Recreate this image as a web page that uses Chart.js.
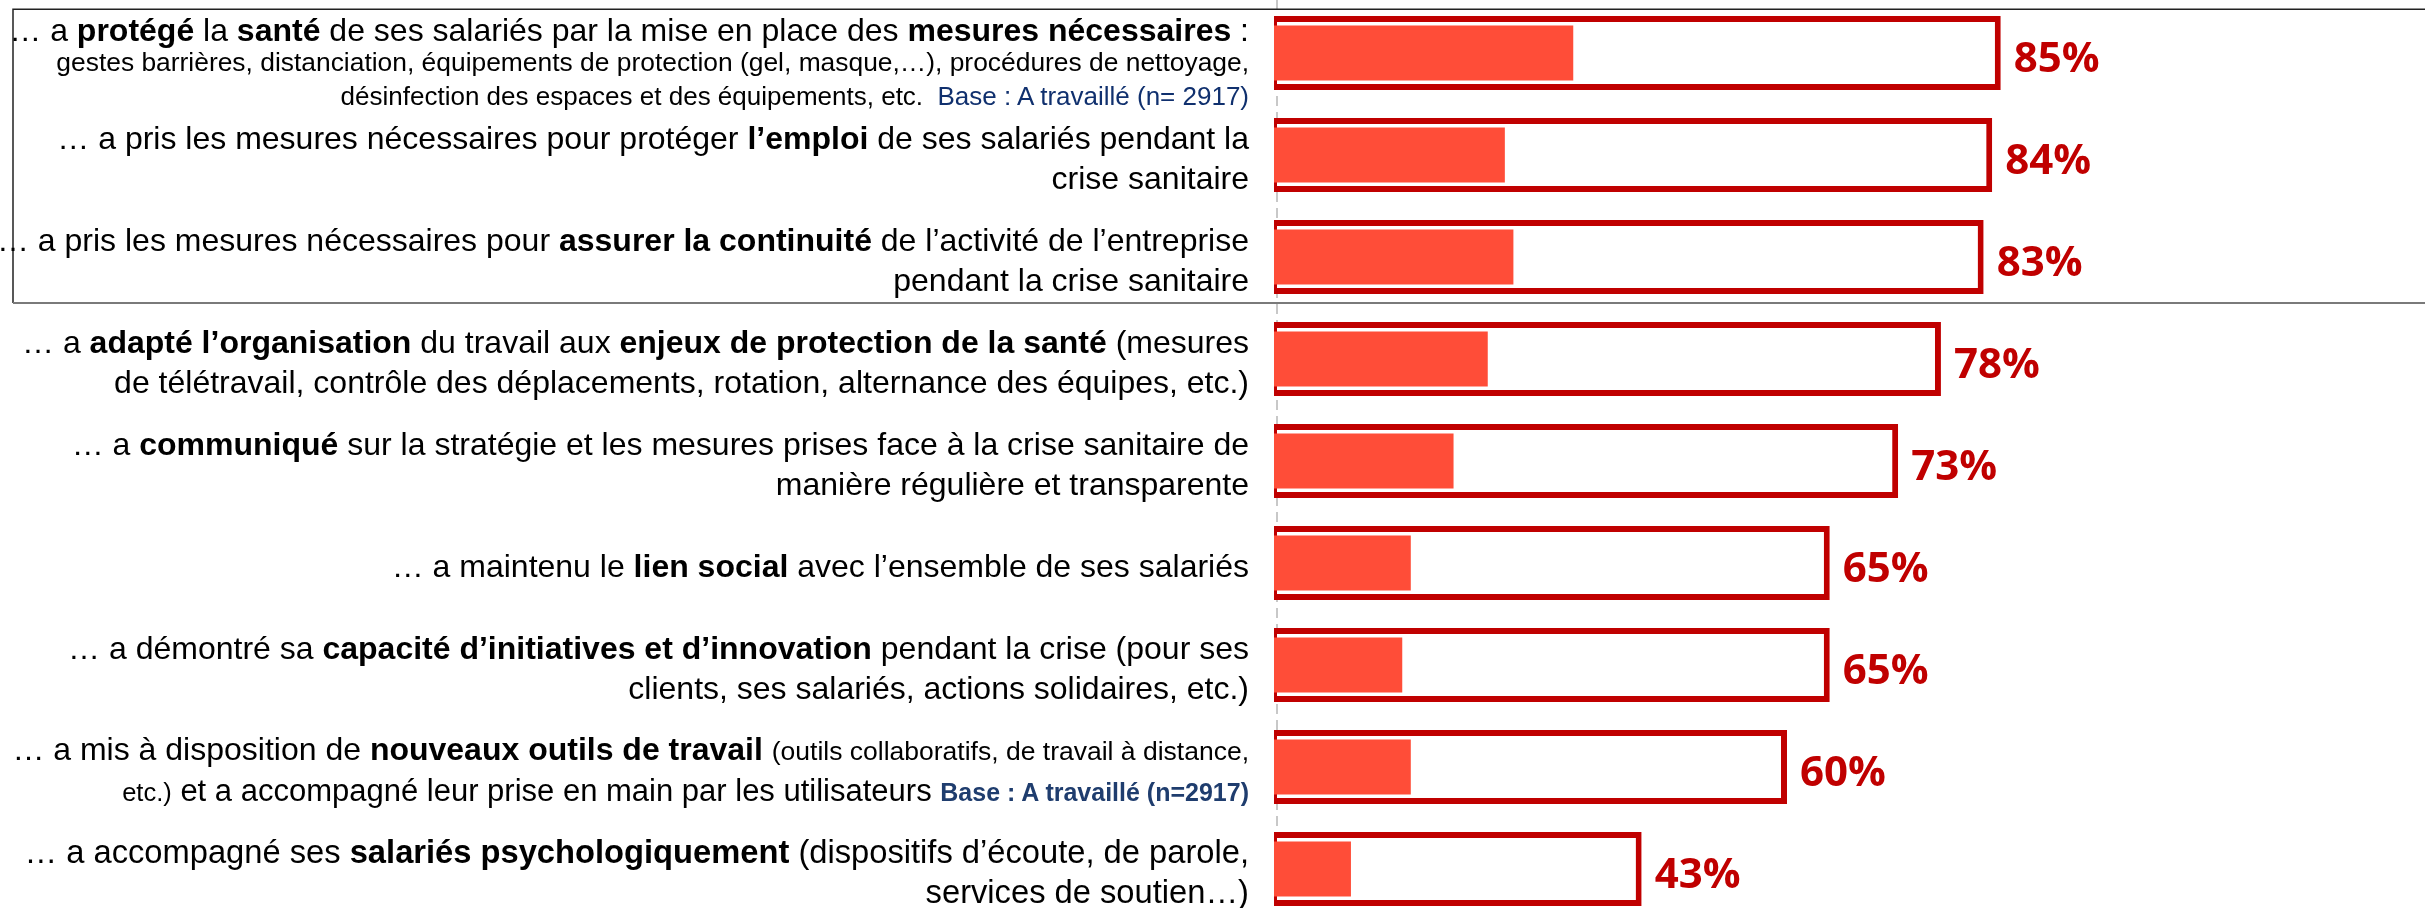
<!DOCTYPE html>
<html lang="fr">
<head>
<meta charset="utf-8">
<script src="https://cdn.jsdelivr.net/npm/chart.js@4.4.1/dist/chart.umd.min.js"></script>
<style>
  html, body { margin: 0; padding: 0; background: #fff; overflow: hidden; }
  #wrap { position: relative; width: 2425px; height: 908px; }
  .lbl {
    position: absolute;
    text-align: right;
    white-space: nowrap;
    font-family: "Liberation Sans", Arial, sans-serif;
    color: #000;
  }
  .lbl .ln { font-size: 32px; line-height: 40px; }
  .lbl .ln.s { font-size: 26.4px; line-height: 34px; }
  .lbl .ln.first { line-height: 30px; }
  .lbl .ln.s.gap { line-height: 34px; font-size: 26px; }
  .lbl .ln.m { font-size: 31px; }
  #lbl8 .ln { font-size: 32.7px; }
  .lbl .sm { font-size: 25.5px; }
  #lbl7 .ln:first-child .sm { font-size: 26.5px; }
  .lbl .base1 { color: #10306e; }
  .lbl .base2 { color: #1f3d6e; font-weight: bold; font-size: 25px; }
</style>
</head>
<body>
<div id="wrap">
  <canvas id="agreeChart"></canvas>
  <div id="labels"></div>
</div>
<script>
  // one entry per item, one string per printed line (s: small line, m: medium line)
  let categories = [
    ['… a <b>protégé</b> la <b>santé</b> de ses salariés par la mise en place des <b>mesures nécessaires</b> :',
     's:gestes barrières, distanciation, équipements de protection (gel, masque,…), procédures de nettoyage,',
     's:désinfection des espaces et des équipements, etc.&nbsp; <span class="base1">Base : A travaillé (n= 2917)</span>'],
    ['… a pris les mesures nécessaires pour protéger <b>l’emploi</b> de ses salariés pendant la',
     'crise sanitaire'],
    ['… a pris les mesures nécessaires pour <b>assurer la continuité</b> de l’activité de l’entreprise',
     'pendant la crise sanitaire'],
    ['… a <b>adapté l’organisation</b> du travail aux <b>enjeux de protection de la santé</b> (mesures',
     'de télétravail, contrôle des déplacements, rotation, alternance des équipes, etc.)'],
    ['… a <b>communiqué</b> sur la stratégie et les mesures prises face à la crise sanitaire de',
     'manière régulière et transparente'],
    ['… a maintenu le <b>lien social</b> avec l’ensemble de ses salariés'],
    ['… a démontré sa <b>capacité d’initiatives et d’innovation</b> pendant la crise (pour ses',
     'clients, ses salariés, actions solidaires, etc.)'],
    ['… a mis à disposition de <b>nouveaux outils de travail</b> <span class="sm">(outils collaboratifs, de travail à distance,</span>',
     'm:<span class="sm">etc.)</span> et a accompagné leur prise en main par les utilisateurs <span class="base2">Base : A travaillé (n=2917)</span>'],
    ['… a accompagné ses <b>salariés psychologiquement</b> (dispositifs d’écoute, de parole,',
     'services de soutien…)']
  ];
  let totals = [85, 84, 83, 78, 73, 65, 65, 60, 43];   // total d'accord
  let topBox = [35, 27, 28, 25, 21, 16, 15, 16, 9];    // tout à fait d'accord

  let plainLabels = categories.map(lines =>
    lines.map(l => l.replace(/^[sm]:/, '').replace(/<[^>]+>/g, '').replace(/&nbsp;/g, ' ')).join(' ')
  );

  function buildLabels() {
    let box = document.getElementById('labels');
    categories.forEach(function(lines, i) {
      let div = document.createElement('div');
      div.className = 'lbl';
      div.id = 'lbl' + i;
      div.innerHTML = lines.map(function(l, j) {
        let cls = 'ln';
        let txt = l;
        if (l.startsWith('s:')) { cls += ' s'; txt = l.slice(2); }
        if (l.startsWith('m:')) { cls += ' m'; txt = l.slice(2); }
        if (i === 0 && j === 0) cls += ' first';
        if (i === 0 && j === 2) cls += ' gap';
        return '<div class="' + cls + '">' + txt + '</div>';
      }).join('');
      box.appendChild(div);
    });
  }

  const decor = {
    id: 'decor',
    beforeDatasetsDraw(chart) {
      const ctx = chart.ctx;
      const x = chart.scales.x, y = chart.scales.y;
      const x0 = x.getPixelForValue(0);
      const step = y.getPixelForValue(1) - y.getPixelForValue(0);
      ctx.save();
      // dashed zero line over the whole height
      ctx.strokeStyle = '#c8c8c8';
      ctx.lineWidth = 2;
      ctx.setLineDash([10, 6]);
      ctx.beginPath();
      ctx.moveTo(x0 + 3, 0);
      ctx.lineTo(x0 + 3, chart.height);
      ctx.stroke();
      // frame around the first three items
      ctx.setLineDash([]);
      const top = y.getPixelForValue(0) - 0.43 * step;
      const bottom = y.getPixelForValue(2) + 0.45 * step;
      ctx.strokeStyle = '#222';
      ctx.lineWidth = 1.5;
      ctx.beginPath();
      ctx.moveTo(chart.width, top);
      ctx.lineTo(13, top);
      ctx.lineTo(13, bottom);
      ctx.stroke();
      ctx.strokeStyle = '#7a7a7a';
      ctx.lineWidth = 2;
      ctx.beginPath();
      ctx.moveTo(13, bottom);
      ctx.lineTo(chart.width, bottom);
      ctx.stroke();
      ctx.restore();
    },
    afterDatasetsDraw(chart) {
      const ctx = chart.ctx;
      const meta = chart.getDatasetMeta(1);
      ctx.save();
      ctx.fillStyle = '#C00000';
      ctx.font = 'bold 42px "Open Sans"';
      ctx.textAlign = 'left';
      ctx.textBaseline = 'alphabetic';
      meta.data.forEach(function(bar, i) {
        ctx.fillText(totals[i] + '%', bar.x + 13, bar.y + 19);
      });
      ctx.restore();
    },
    afterDraw(chart) {
      const x = chart.scales.x, y = chart.scales.y;
      const right = chart.width - (x.getPixelForValue(0) - 25);
      categories.forEach(function(l, i) {
        let div = document.getElementById('lbl' + i);
        let shift = i === 0 ? 11 : 3;
        div.style.right = right + 'px';
        div.style.top = y.getPixelForValue(i) + 'px';
        div.style.transform = 'translateY(calc(-50% + ' + shift + 'px))';
      });
    }
  };

  buildLabels();

  let ctx = document.getElementById('agreeChart').getContext('2d');
  let agreeChart = new Chart(ctx, {
    type: 'bar',
    data: {
      labels: plainLabels,
      datasets: [
        {
          label: 'Tout à fait d’accord',
          data: topBox,
          backgroundColor: '#FF4D38',
          barPercentage: 0.54,
          categoryPercentage: 1,
          grouped: false,
          clip: false,
          order: 0
        },
        {
          label: 'Total d’accord',
          data: totals,
          backgroundColor: '#ffffff',
          borderColor: '#C00000',
          borderWidth: { top: 6, right: 6, bottom: 6, left: 3 },
          borderSkipped: false,
          barPercentage: 0.725,
          categoryPercentage: 1,
          grouped: false,
          clip: false,
          order: 1
        }
      ]
    },
    options: {
      indexAxis: 'y',
      responsive: true,
      maintainAspectRatio: false,
      animation: false,
      layout: {
        padding: { left: 1274, right: 296, top: 53, bottom: 39 }
      },
      scales: {
        x: { display: false, min: 0, max: 100 },
        y: { display: false, offset: false }
      },
      plugins: {
        legend: { display: false },
        tooltip: { enabled: false }
      }
    },
    plugins: [decor]
  });
</script>
</body>
</html>
